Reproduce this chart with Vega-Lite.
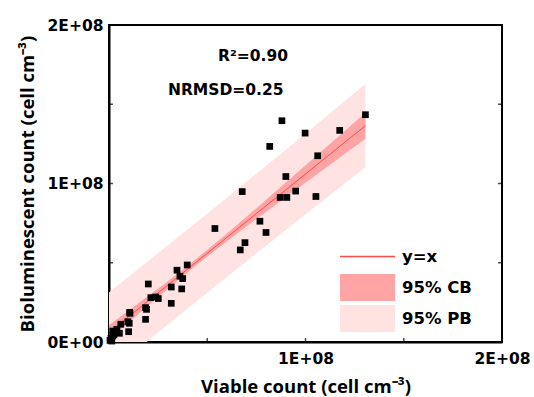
{
  "$schema": "https://vega.github.io/schema/vega-lite/v6.json",
  "width": 393,
  "height": 317,
  "autosize": "none",
  "padding": {"left": 109, "top": 25, "right": 32, "bottom": 55},
  "config": {
    "view": {"stroke": "black", "strokeWidth": 2},
    "font": "DejaVu Sans",
    "axis": {
      "grid": false,
      "ticks": false,
      "domainColor": "black",
      "domainWidth": 2,
      "labelColor": "black",
      "labelFont": "DejaVu Sans",
      "labelFontWeight": "bold",
      "labelFontSize": 15.5,
      "labelOverlap": false,
      "labelFlush": false,
      "titleColor": "black",
      "titleFont": "Open Sans",
      "titleFontWeight": "bold",
      "titleFontSize": 18.5
    }
  },
  "datasets": {
    "pts": [
      {"viable": 130500000, "biolum": 143400000},
      {"viable": 88000000, "biolum": 139600000},
      {"viable": 117400000, "biolum": 133500000},
      {"viable": 99800000, "biolum": 131800000},
      {"viable": 81800000, "biolum": 123400000},
      {"viable": 106200000, "biolum": 117500000},
      {"viable": 90000000, "biolum": 104400000},
      {"viable": 95000000, "biolum": 95200000},
      {"viable": 67800000, "biolum": 94900000},
      {"viable": 87100000, "biolum": 91200000},
      {"viable": 90500000, "biolum": 91200000},
      {"viable": 105300000, "biolum": 91800000},
      {"viable": 76800000, "biolum": 76200000},
      {"viable": 79900000, "biolum": 69100000},
      {"viable": 53900000, "biolum": 71600000},
      {"viable": 69200000, "biolum": 62700000},
      {"viable": 66800000, "biolum": 58100000},
      {"viable": 39800000, "biolum": 48600000},
      {"viable": 34600000, "biolum": 45300000},
      {"viable": 36100000, "biolum": 41500000},
      {"viable": 37500000, "biolum": 40000000},
      {"viable": 31700000, "biolum": 34700000},
      {"viable": 37000000, "biolum": 33500000},
      {"viable": 20000000, "biolum": 36600000},
      {"viable": 21300000, "biolum": 28000000},
      {"viable": 23800000, "biolum": 28400000},
      {"viable": 25100000, "biolum": 27400000},
      {"viable": 31700000, "biolum": 24400000},
      {"viable": 18600000, "biolum": 21700000},
      {"viable": 19100000, "biolum": 20600000},
      {"viable": 18600000, "biolum": 14300000},
      {"viable": 10500000, "biolum": 18700000},
      {"viable": 10700000, "biolum": 18100000},
      {"viable": 9600000, "biolum": 12800000},
      {"viable": 10300000, "biolum": 11800000},
      {"viable": 10000000, "biolum": 6500000},
      {"viable": 6000000, "biolum": 11200000},
      {"viable": 5300000, "biolum": 5500000},
      {"viable": 4000000, "biolum": 8000000},
      {"viable": 3100000, "biolum": 6300000},
      {"viable": 1900000, "biolum": 6900000},
      {"viable": 1900000, "biolum": 3800000},
      {"viable": 1000000, "biolum": 2300000},
      {"viable": 1400000, "biolum": 600000},
      {"viable": 2500000, "biolum": 4500000},
      {"viable": 500000, "biolum": 1000000}
    ],
    "band": [
      {"viable": 0, "fit": 6000000, "cbLo": 1400000, "cbHi": 10600000, "pbLo": -19300000, "pbHi": 31300000},
      {"viable": 15000000, "fit": 21000000, "cbLo": 17600000, "cbHi": 24400000, "pbLo": -4200000, "pbHi": 46200000},
      {"viable": 30000000, "fit": 36000000, "cbLo": 33600000, "cbHi": 38400000, "pbLo": 11000000, "pbHi": 61000000},
      {"viable": 45000000, "fit": 51000000, "cbLo": 49000000, "cbHi": 53000000, "pbLo": 26000000, "pbHi": 76000000},
      {"viable": 60000000, "fit": 66000000, "cbLo": 63600000, "cbHi": 68400000, "pbLo": 41000000, "pbHi": 91000000},
      {"viable": 75000000, "fit": 81000000, "cbLo": 77600000, "cbHi": 84400000, "pbLo": 55800000, "pbHi": 106200000},
      {"viable": 90000000, "fit": 96000000, "cbLo": 91400000, "cbHi": 100600000, "pbLo": 70700000, "pbHi": 121300000},
      {"viable": 105000000, "fit": 111000000, "cbLo": 105100000, "cbHi": 116900000, "pbLo": 85400000, "pbHi": 136600000},
      {"viable": 120000000, "fit": 126000000, "cbLo": 118800000, "cbHi": 133200000, "pbLo": 100000000, "pbHi": 152000000},
      {"viable": 130500000, "fit": 136500000, "cbLo": 128300000, "cbHi": 144700000, "pbLo": 110200000, "pbHi": 162800000}
    ],
    "notes": [
      {"viable": 73300000, "biolum": 180400000, "label": "R²=0.90"},
      {"viable": 59400000, "biolum": 158900000, "label": "NRMSD=0.25"}
    ],
    "xticks": [
      {"pos": 50000000}, {"pos": 100000000}, {"pos": 150000000}
    ],
    "yticks": [
      {"edge": 0, "pos": 50000000}, {"edge": 0, "pos": 100000000}, {"edge": 0, "pos": 150000000},
      {"edge": 200000000, "pos": 50000000}, {"edge": 200000000, "pos": 100000000}, {"edge": 200000000, "pos": 150000000}
    ]
  },
  "layer": [
    {
      "data": {"name": "band"},
      "mark": {"type": "area", "clip": true},
      "encoding": {
        "x": {"field": "viable", "type": "quantitative", "scale": {"domain": [0, 200000000], "nice": false},
          "axis": {"title": "Viable count (cell cm⁻³)", "values": [0, 100000000, 200000000],
            "labelExpr": "datum.value == 0 ? '' : format(datum.value / 100000000, 'd') + 'E+08'",
            "labelPadding": 9, "titlePadding": 11}},
        "y": {"field": "pbLo", "type": "quantitative", "scale": {"domain": [0, 200000000], "nice": false},
          "axis": {"title": "Bioluminescent count (cell cm⁻³)", "values": [0, 100000000, 200000000],
            "labelExpr": "datum.value == 0 ? '0E+00' : format(datum.value / 100000000, 'd') + 'E+08'",
            "labelPadding": 6, "titlePadding": 10}},
        "y2": {"field": "pbHi"},
        "color": {"datum": "95% PB", "type": "nominal"}
      }
    },
    {
      "data": {"name": "band"},
      "mark": {"type": "area", "clip": true},
      "encoding": {
        "x": {"field": "viable", "type": "quantitative"},
        "y": {"field": "cbLo", "type": "quantitative"},
        "y2": {"field": "cbHi"},
        "color": {"datum": "95% CB", "type": "nominal"}
      }
    },
    {
      "data": {"name": "band"},
      "mark": {"type": "line", "strokeWidth": 1, "clip": true},
      "encoding": {
        "x": {"field": "viable", "type": "quantitative"},
        "y": {"field": "fit", "type": "quantitative"},
        "color": {"datum": "y=x", "type": "nominal",
          "scale": {"domain": ["y=x", "95% CB", "95% PB"], "range": ["#FF4A4A", "#FFA4A4", "#FFE2E2"]},
          "legend": {
            "orient": "none", "legendX": 243, "legendY": 216, "title": null, "padding": 0,
            "symbolSize": 961, "symbolStrokeWidth": 0, "rowPadding": 1, "labelOffset": 19,
            "labelFont": "DejaVu Sans", "labelFontWeight": "bold", "labelFontSize": 16.5, "labelColor": "black",
            "encode": {"symbols": {"update": {
              "shape": {"signal": "datum.value == 'y=x' ? 'M-1.774,-0.045H1.774V0.045H-1.774Z M0,-0.871L0,-0.871Z M0,0.871L0,0.871Z' : 'M-1.774,-0.871H1.774V0.871H-1.774Z'"},
              "stroke": {"value": "transparent"},
              "strokeWidth": {"value": 0},
              "opacity": {"value": 1},
              "fillOpacity": {"value": 1}
            }}}
          }}
      }
    },
    {
      "data": {"name": "xticks"},
      "mark": {"type": "tick", "orient": "vertical", "size": 8, "thickness": 1.5, "color": "black", "clip": true},
      "encoding": {
        "x": {"field": "pos", "type": "quantitative"},
        "y": {"datum": 0, "type": "quantitative"}
      }
    },
    {
      "data": {"name": "yticks"},
      "mark": {"type": "tick", "orient": "horizontal", "size": 8, "thickness": 1.5, "color": "black", "clip": true},
      "encoding": {
        "x": {"field": "edge", "type": "quantitative"},
        "y": {"field": "pos", "type": "quantitative"}
      }
    },
    {
      "data": {"name": "pts"},
      "mark": {"type": "square", "size": 45, "color": "black", "opacity": 1, "filled": true},
      "encoding": {
        "x": {"field": "viable", "type": "quantitative"},
        "y": {"field": "biolum", "type": "quantitative"}
      }
    },
    {
      "data": {"name": "notes"},
      "mark": {"type": "text", "font": "DejaVu Sans", "fontWeight": "bold", "fontSize": 15.5, "align": "center", "baseline": "middle", "color": "black"},
      "encoding": {
        "x": {"field": "viable", "type": "quantitative"},
        "y": {"field": "biolum", "type": "quantitative"},
        "text": {"field": "label"}
      }
    }
  ]
}
